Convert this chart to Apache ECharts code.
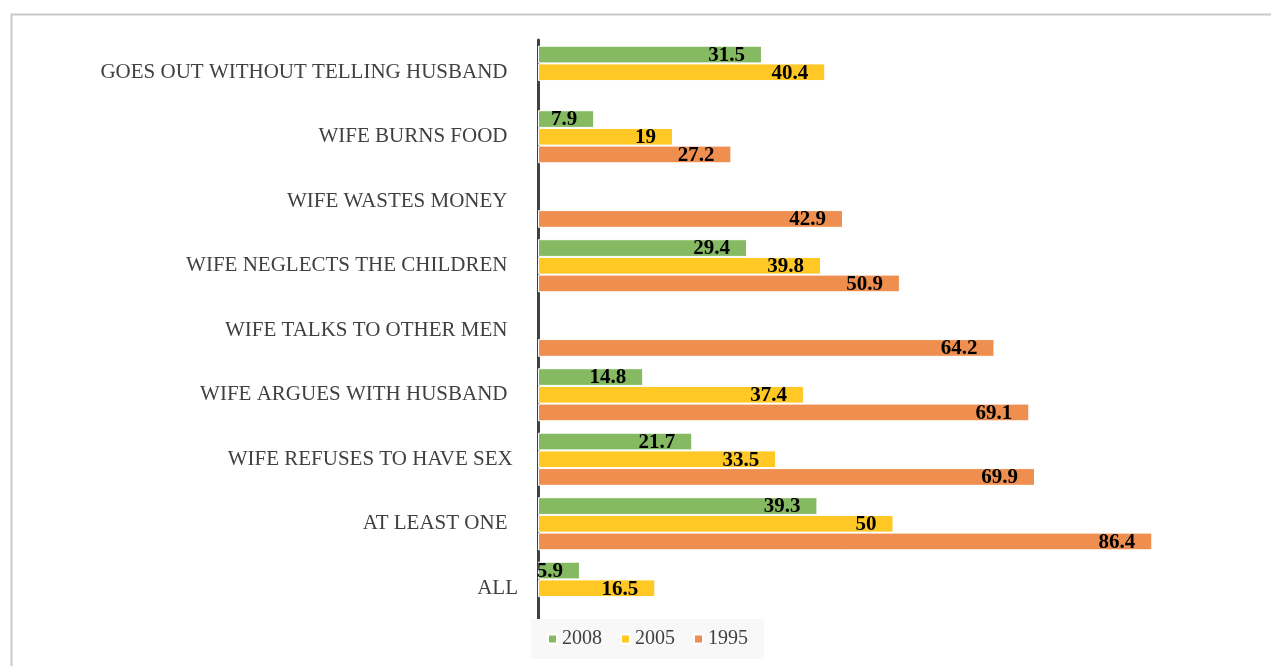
<!DOCTYPE html>
<html>
<head>
<meta charset="utf-8">
<title>Attitudes towards wife beating</title>
<script src="https://cdn.jsdelivr.net/npm/echarts@6/dist/echarts.min.js"></script>
<style>
  html, body { margin: 0; padding: 0; background: #fff; }
  #chart { width: 1271px; height: 666px; }
</style>
</head>
<body>
<div id="chart"></div>
<script>
// Reasons, listed top to bottom
const categories = [
  'GOES OUT WITHOUT TELLING HUSBAND  ',
  'WIFE BURNS FOOD  ',
  'WIFE WASTES MONEY  ',
  'WIFE NEGLECTS THE CHILDREN  ',
  'WIFE TALKS TO OTHER MEN  ',
  'WIFE ARGUES WITH HUSBAND  ',
  'WIFE REFUSES TO HAVE SEX ',
  'AT LEAST ONE  ',
  'ALL'
];

// Percentages per survey year (null = not asked that year)
const values2008 = [31.5, 7.9, null, 29.4, null, 14.8, 21.7, 39.3, 5.9];
const values2005 = [40.4, 19, null, 39.8, null, 37.4, 33.5, 50, 16.5];
const values1995 = [null, 27.2, 42.9, 50.9, 64.2, 69.1, 69.9, 86.4, null];

const seriesNames = ['2008', '2005', '1995'];
const seriesColors = ['#85ba62', '#ffc824', '#ee8f4f'];

const serif = "'Liberation Serif', 'Times New Roman', serif";

function barSeries(name, data, color) {
  return {
    name: name,
    type: 'bar',
    data: data,
    barWidth: 17.7,
    barGap: '0%',
    itemStyle: { color: color, borderColor: '#ffffff', borderWidth: 1 },
    label: {
      show: true,
      position: 'insideRight',
      distance: 17,
      offset: [0, 1],
      color: '#000000',
      fontFamily: serif,
      fontWeight: 'bold',
      fontSize: 21
    }
  };
}

const chart = echarts.init(document.getElementById('chart'), null, { renderer: 'canvas' });

chart.setOption({
  animation: false,
  backgroundColor: '#ffffff',
  graphic: [{
    type: 'rect',
    left: 9,
    top: 12,
    shape: { width: 1300, height: 700 },
    style: { fill: 'none', stroke: '#c9c9c9', lineWidth: 2 },
    z: -10
  }],
  legend: {
    data: seriesNames,
    left: 531,
    top: 619,
    padding: [10, 16],
    backgroundColor: '#f8f8f8',
    itemWidth: 9,
    itemHeight: 9,
    itemGap: 18,
    icon: 'rect',
    textStyle: { color: '#404040', fontFamily: serif, fontSize: 20 }
  },
  grid: {
    left: 538,
    right: 22,
    top: 40,
    bottom: 45.5,
    containLabel: false
  },
  xAxis: {
    type: 'value',
    min: 0,
    max: 100,
    axisLine: { show: false },
    axisTick: { show: false },
    axisLabel: { show: false },
    splitLine: { show: false }
  },
  yAxis: {
    type: 'category',
    data: categories,
    inverse: true,
    offset: 2,
    axisLine: { show: true, lineStyle: { color: '#404040', width: 3 } },
    axisTick: { show: false },
    axisLabel: {
      margin: 18,
      color: '#404040',
      fontFamily: serif,
      fontSize: 21
    }
  },
  series: [
    barSeries(seriesNames[0], values2008, seriesColors[0]),
    barSeries(seriesNames[1], values2005, seriesColors[1]),
    barSeries(seriesNames[2], values1995, seriesColors[2])
  ]
});
</script>
</body>
</html>
